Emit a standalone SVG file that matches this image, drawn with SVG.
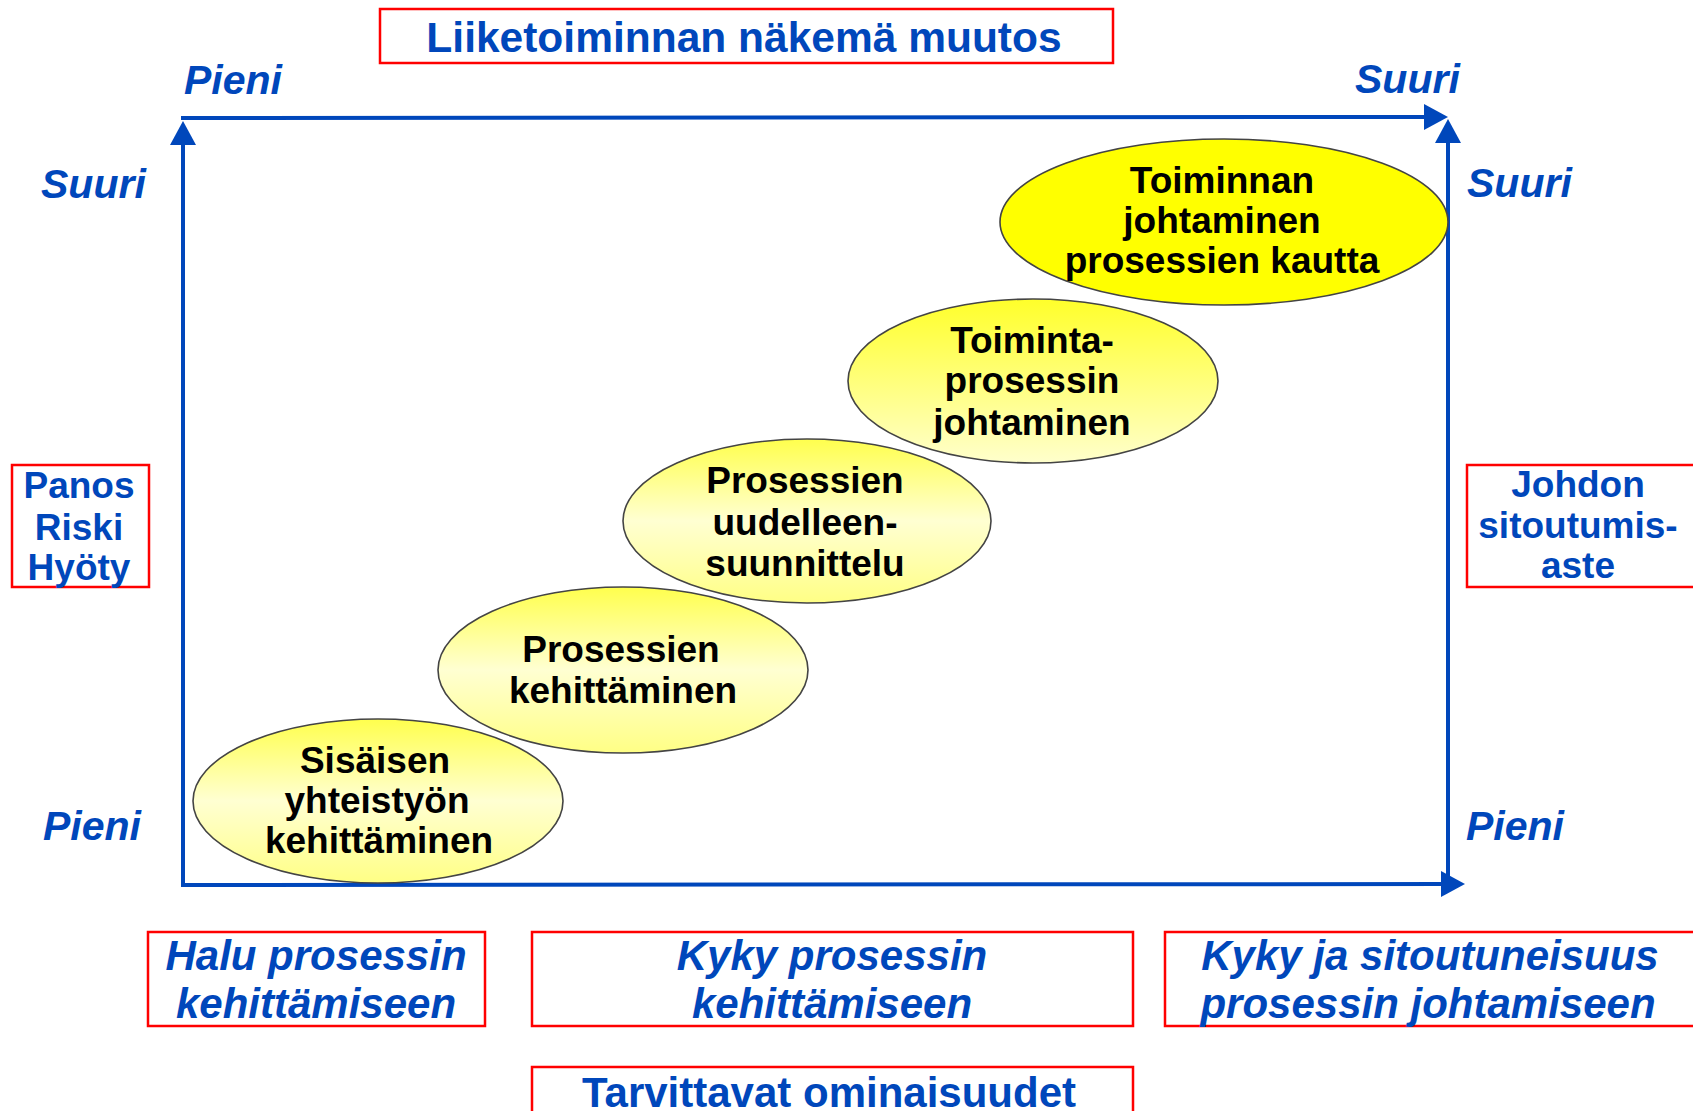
<svg xmlns="http://www.w3.org/2000/svg" width="1693" height="1111" viewBox="0 0 1693 1111">
<style>
.box{fill:#fff;stroke:#ff0000;stroke-width:2.5}
.lbl{font-family:"Liberation Sans",Arial,sans-serif;font-weight:bold;fill:#0047bb;text-anchor:middle}
.it{font-style:italic}
.ax{font-family:"Liberation Sans",Arial,sans-serif;font-weight:bold;font-style:italic;fill:#0047bb;font-size:41px}
.axis{stroke:#0047bb;stroke-width:4;fill:none}
.ell{stroke:#444;stroke-width:1.6}
.et{font-family:"Liberation Sans",Arial,sans-serif;font-weight:bold;fill:#000;font-size:37px;text-anchor:middle}
</style>
<defs>
<marker id="arr" markerUnits="userSpaceOnUse" markerWidth="26" markerHeight="26" refX="0" refY="13" orient="auto">
<path d="M0,0 L24,13 L0,26 z" fill="#0047bb"/>
</marker>
<linearGradient id="gLow" x1="0" y1="0" x2="0" y2="1">
<stop offset="0" stop-color="#ffff4d"/>
<stop offset="0.5" stop-color="#ffffd2"/>
<stop offset="1" stop-color="#ffff85"/>
</linearGradient>
<linearGradient id="gMid" x1="0" y1="0" x2="0" y2="1">
<stop offset="0" stop-color="#ffff2a"/>
<stop offset="1" stop-color="#ffffcc"/>
</linearGradient>
</defs>
<rect width="1693" height="1111" fill="#fff"/>

<g id="connectors">
<line class="axis" x1="183" y1="884" x2="183" y2="145" marker-end="url(#arr)"/>
<line class="axis" x1="181" y1="118" x2="1424" y2="117" marker-end="url(#arr)"/>
<line class="axis" x1="1448" y1="884" x2="1448" y2="143" marker-end="url(#arr)"/>
<line class="axis" x1="181" y1="885" x2="1441" y2="884" marker-end="url(#arr)"/>
</g>

<g id="axis-labels">
<text class="ax" x="184" y="94">Pieni</text>
<text class="ax" x="1355" y="93">Suuri</text>
<text class="ax" x="41" y="198">Suuri</text>
<text class="ax" x="1467" y="197">Suuri</text>
<text class="ax" x="43" y="840">Pieni</text>
<text class="ax" x="1466" y="840">Pieni</text>
</g>

<g id="title">
<rect class="box" x="380" y="9" width="733" height="54"/>
<text class="lbl" x="744" y="52" font-size="42.5">Liiketoiminnan näkemä muutos</text>
</g>

<g id="panos">
<rect class="box" x="12" y="465" width="137" height="122"/>
<text class="lbl" font-size="37"><tspan x="79" y="498">Panos</tspan><tspan x="79" y="540">Riski</tspan><tspan x="79" y="580">Hyöty</tspan></text>
</g>

<g id="johdon">
<rect class="box" x="1467" y="465" width="240" height="122"/>
<text class="lbl" font-size="37"><tspan x="1578" y="497">Johdon</tspan><tspan x="1578" y="538">sitoutumis-</tspan><tspan x="1578" y="578">aste</tspan></text>
</g>

<g id="node-toiminnan">
<ellipse class="ell" cx="1224" cy="222" rx="224" ry="83" fill="#ffff00"/>
<text class="et"><tspan x="1222" y="193">Toiminnan</tspan><tspan x="1222" y="233">johtaminen</tspan><tspan x="1222" y="273">prosessien kautta</tspan></text>
</g>

<g id="node-toimintaprosessin">
<ellipse class="ell" cx="1033" cy="381" rx="185" ry="82" fill="url(#gMid)"/>
<text class="et"><tspan x="1032" y="353">Toiminta-</tspan><tspan x="1032" y="393">prosessin</tspan><tspan x="1032" y="435">johtaminen</tspan></text>
</g>

<g id="node-uudelleen">
<ellipse class="ell" cx="807" cy="521" rx="184" ry="82" fill="url(#gLow)"/>
<text class="et"><tspan x="805" y="493">Prosessien</tspan><tspan x="805" y="535">uudelleen-</tspan><tspan x="805" y="576">suunnittelu</tspan></text>
</g>

<g id="node-kehittaminen">
<ellipse class="ell" cx="623" cy="670" rx="185" ry="83" fill="url(#gLow)"/>
<text class="et"><tspan x="621" y="662">Prosessien</tspan><tspan x="623" y="703">kehittäminen</tspan></text>
</g>

<g id="node-sisaisen">
<ellipse class="ell" cx="378" cy="801" rx="185" ry="82" fill="url(#gLow)"/>
<text class="et"><tspan x="375" y="773">Sisäisen</tspan><tspan x="377" y="813">yhteistyön</tspan><tspan x="379" y="853">kehittäminen</tspan></text>
</g>

<g id="halu">
<rect class="box" x="148" y="932" width="337" height="94"/>
<text class="lbl it" font-size="42"><tspan x="316" y="970">Halu prosessin</tspan><tspan x="316" y="1018">kehittämiseen</tspan></text>
</g>

<g id="kyky">
<rect class="box" x="532" y="932" width="601" height="94"/>
<text class="lbl it" font-size="42"><tspan x="832" y="970">Kyky prosessin</tspan><tspan x="832" y="1018">kehittämiseen</tspan></text>
</g>

<g id="kykyja">
<rect class="box" x="1165" y="932" width="540" height="94"/>
<text class="lbl it" font-size="42"><tspan x="1430" y="970">Kyky ja sitoutuneisuus</tspan><tspan x="1428" y="1018">prosessin johtamiseen</tspan></text>
</g>

<g id="tarvittavat">
<rect class="box" x="532" y="1067" width="601" height="60"/>
<text class="lbl" x="829" y="1107" font-size="42">Tarvittavat ominaisuudet</text>
</g>
</svg>
